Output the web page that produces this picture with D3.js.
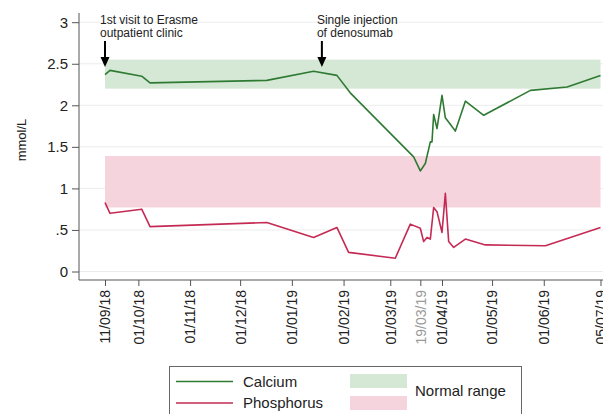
<!DOCTYPE html>
<html>
<head>
<meta charset="utf-8">
<script src="https://cdn.jsdelivr.net/npm/d3@7"></script>
<style>
  html, body { margin: 0; padding: 0; background: #fff; }
  svg { display: block; font-family: Arial, "Liberation Sans", sans-serif; }
</style>
</head>
<body>
<svg id="chart" width="603" height="414"></svg>
<script>
// Serum calcium and phosphorus over follow-up (mmol/L)
const calciumDates = ["2018-09-11","2018-09-14","2018-10-03","2018-10-08","2018-12-17","2019-01-14","2019-01-28","2019-02-05","2019-03-15","2019-03-19","2019-03-22","2019-03-25","2019-03-26","2019-03-27","2019-03-29","2019-04-01","2019-04-03","2019-04-09","2019-04-15","2019-04-26","2019-05-24","2019-06-15","2019-07-05"];
const calciumValues = [2.37,2.42,2.35,2.27,2.30,2.41,2.36,2.15,1.38,1.21,1.30,1.56,1.56,1.89,1.72,2.12,1.85,1.69,2.05,1.88,2.18,2.22,2.36];

const phosphorusDates = ["2018-09-11","2018-09-14","2018-10-03","2018-10-08","2018-12-17","2019-01-14","2019-01-28","2019-02-04","2019-03-04","2019-03-13","2019-03-19","2019-03-21","2019-03-23","2019-03-25","2019-03-27","2019-03-29","2019-04-01","2019-04-03","2019-04-05","2019-04-08","2019-04-15","2019-04-27","2019-06-02","2019-07-05"];
const phosphorusValues = [0.83,0.70,0.75,0.54,0.59,0.41,0.53,0.23,0.16,0.57,0.52,0.36,0.41,0.39,0.77,0.72,0.47,0.94,0.36,0.29,0.39,0.32,0.31,0.53];

// Reference ranges [low, high]
const calciumRange = [2.2, 2.55];
const phosphorusRange = [0.77, 1.39];

const xTickDates = ["2018-09-11","2018-10-01","2018-11-01","2018-12-01","2019-01-01","2019-02-01","2019-03-01","2019-03-19","2019-04-01","2019-05-01","2019-06-01","2019-07-05"];
const xTickLabels = ["11/09/18","01/10/18","01/11/18","01/12/18","01/01/19","01/02/19","01/03/19","19/03/19","01/04/19","01/05/19","01/06/19","05/07/19"];
const yTickValues = [0, 0.5, 1, 1.5, 2, 2.5, 3];
const yTickLabels = ["0", ".5", "1", "1.5", "2", "2.5", "3"];

const eventDates = ["2018-09-11", "2019-01-19"];
const eventLabels = [["1st visit to Erasme", "outpatient clinic"], ["Single injection", "of denosumab"]];

const parse = d3.utcParse("%Y-%m-%d");
const svg = d3.select("#chart");

const plotLeft = 79, plotRight = 603, plotBottom = 280, plotTop = 13;
const x = d3.scaleUtc()
  .domain([parse(xTickDates[0]), parse(xTickDates[xTickDates.length - 1])])
  .range([105, 600.5]);
const y = d3.scaleLinear().domain([0, 3]).range([271.5, 22.2]);

const green = "#2f7a33", red = "#c52a55";
const greenFill = "#d5e8d5", pinkFill = "#f5d4de";
const font = "Arial, 'Liberation Sans', sans-serif";

// horizontal grid
svg.append("g").selectAll("line").data(yTickValues).join("line")
  .attr("x1", plotLeft).attr("x2", plotRight)
  .attr("y1", d => y(d)).attr("y2", d => y(d))
  .attr("stroke", "#ececec").attr("stroke-width", 1);

// normal range bands
const bandX0 = x(parse(xTickDates[0])), bandX1 = x(parse(xTickDates[xTickDates.length - 1]));
svg.append("rect")
  .attr("x", bandX0).attr("width", bandX1 - bandX0)
  .attr("y", y(calciumRange[1])).attr("height", y(calciumRange[0]) - y(calciumRange[1]))
  .attr("fill", greenFill);
svg.append("rect")
  .attr("x", bandX0).attr("width", bandX1 - bandX0)
  .attr("y", y(phosphorusRange[1])).attr("height", y(phosphorusRange[0]) - y(phosphorusRange[1]))
  .attr("fill", pinkFill);

// series lines
const line = d3.line().x(d => x(d[0])).y(d => y(d[1]));
const caData = calciumDates.map((d, i) => [parse(d), calciumValues[i]]);
const pData = phosphorusDates.map((d, i) => [parse(d), phosphorusValues[i]]);
svg.append("path").datum(pData).attr("d", line)
  .attr("fill", "none").attr("stroke", red).attr("stroke-width", 1.6).attr("stroke-linejoin", "round");
svg.append("path").datum(caData).attr("d", line)
  .attr("fill", "none").attr("stroke", green).attr("stroke-width", 1.6).attr("stroke-linejoin", "round");

// y axis
const yAxis = svg.append("g").attr("transform", `translate(${plotLeft},0)`)
  .call(d3.axisLeft(y).tickValues(yTickValues).tickFormat((d, i) => yTickLabels[i]).tickSize(7).tickPadding(4));
yAxis.select(".domain").attr("d", `M0,${plotTop}V${plotBottom}`).attr("stroke", "#555");
yAxis.selectAll(".tick line").attr("stroke", "#555");
yAxis.selectAll(".tick text").attr("font-size", 15).attr("fill", "#222").attr("font-family", font);

// x axis
const xAxis = svg.append("g").attr("transform", `translate(0,${plotBottom})`)
  .call(d3.axisBottom(x).tickValues(xTickDates.map(parse)).tickFormat((d, i) => xTickLabels[i]).tickSize(6));
xAxis.select(".domain").attr("d", `M${plotLeft},0H${plotRight}`).attr("stroke", "#555");
xAxis.selectAll(".tick line").attr("stroke", "#555");
xAxis.selectAll(".tick text")
  .attr("font-size", 14).attr("font-family", font)
  .attr("fill", (d, i) => xTickLabels[i] === "19/03/19" ? "#9a9a9a" : "#222")
  .attr("text-anchor", "end").attr("dy", "0.35em")
  .attr("transform", "translate(0,10) rotate(-90)")
  .attr("x", 0).attr("y", 0);

// y axis title
svg.append("text")
  .attr("transform", "translate(21,140) rotate(-90)")
  .attr("text-anchor", "middle").attr("dy", "0.35em")
  .attr("font-size", 13).attr("fill", "#222")
  .text("mmol/L");

// event annotations with arrows
eventDates.forEach((d, i) => {
  const ax = x(parse(d));
  const g = svg.append("g");
  g.append("line").attr("x1", ax).attr("x2", ax).attr("y1", 41).attr("y2", 58)
    .attr("stroke", "#000").attr("stroke-width", 2);
  g.append("path").attr("d", `M${ax - 4.5},57L${ax + 4.5},57L${ax},67Z`).attr("fill", "#000");
  eventLabels[i].forEach((s, j) => {
    g.append("text").attr("x", ax - 5).attr("y", 24 + j * 12.5)
      .attr("font-size", 12).attr("fill", "#222").text(s);
  });
});

// legend
const lg = svg.append("g");
lg.append("rect").attr("x", 169.5).attr("y", 366.5).attr("width", 352).attr("height", 60)
  .attr("fill", "#fff").attr("stroke", "#666").attr("stroke-width", 1);
const legendSeries = [{ name: "Calcium", color: green, cy: 381.5 }, { name: "Phosphorus", color: red, cy: 403 }];
legendSeries.forEach(s => {
  lg.append("line").attr("x1", 176).attr("x2", 233).attr("y1", s.cy).attr("y2", s.cy)
    .attr("stroke", s.color).attr("stroke-width", 1.6);
  lg.append("text").attr("x", 243).attr("y", s.cy).attr("dy", "0.35em")
    .attr("font-size", 15).attr("fill", "#222").text(s.name);
});
lg.append("rect").attr("x", 350).attr("y", 374).attr("width", 57).attr("height", 14).attr("fill", greenFill);
lg.append("rect").attr("x", 350).attr("y", 396).attr("width", 57).attr("height", 14).attr("fill", pinkFill);
lg.append("text").attr("x", 415).attr("y", 391).attr("dy", "0.35em")
  .attr("font-size", 15).attr("fill", "#222").text("Normal range");
</script>
</body>
</html>
